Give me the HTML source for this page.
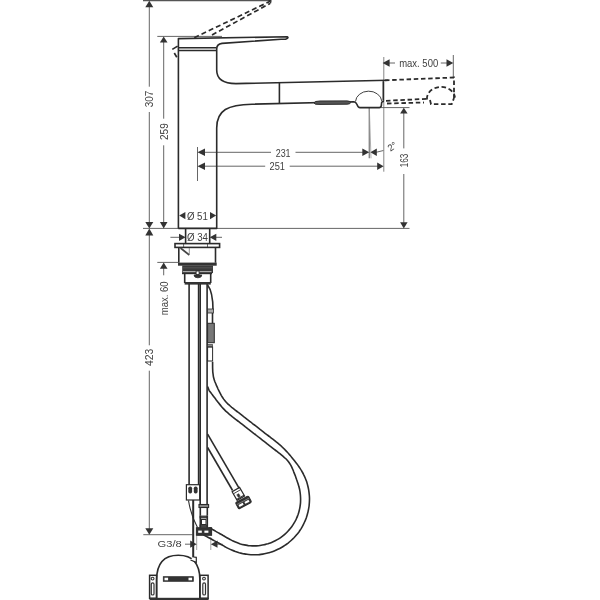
<!DOCTYPE html>
<html><head><meta charset="utf-8">
<style>
html,body{margin:0;padding:0;background:#fff;width:600px;height:600px;overflow:hidden}
svg{display:block;will-change:transform}
text{font-family:"Liberation Sans",sans-serif;fill:#404040;font-size:10.2px}
</style></head><body>
<svg width="600" height="600" viewBox="0 0 600 600">
<rect width="600" height="600" fill="#fff"/>

<!-- ===== dimension lines (thin) ===== -->
<g stroke="#555" stroke-width="0.9" fill="none">
  <line x1="143" y1="0.6" x2="271" y2="0.6" stroke-width="1.3"/>
  <!-- 307 -->
  <line x1="149.3" y1="5" x2="149.3" y2="86.7"/>
  <line x1="149.3" y1="112" x2="149.3" y2="223"/>
  <!-- lever ext -->
  <line x1="157.3" y1="36.4" x2="222" y2="36.4"/>
  <!-- 259 -->
  <line x1="163.7" y1="40" x2="163.7" y2="118.7"/>
  <line x1="163.7" y1="145.3" x2="163.7" y2="223"/>
  <!-- floor line -->
  <line x1="143" y1="228.4" x2="409.5" y2="228.4"/>
  <!-- 423 -->
  <line x1="149.3" y1="234" x2="149.3" y2="345.3"/>
  <line x1="149.3" y1="370.7" x2="149.3" y2="529"/>
  <line x1="143.3" y1="534.7" x2="192.5" y2="534.7"/>
  <!-- max 60 -->
  <line x1="157.3" y1="262.4" x2="178" y2="262.4"/>
  <line x1="163.7" y1="267" x2="163.7" y2="275.3"/>
  <!-- 231 / 251 ext -->
  <line x1="197.5" y1="147" x2="197.5" y2="181"/>
  <line x1="203" y1="152.3" x2="271" y2="152.3"/>
  <line x1="295.5" y1="152.3" x2="363" y2="152.3"/>
  <line x1="203" y1="166.2" x2="265.2" y2="166.2"/>
  <line x1="289.7" y1="166.2" x2="378" y2="166.2"/>
  <line x1="376" y1="152.3" x2="383.5" y2="150.5"/>
  <!-- 2 deg spray lines -->
  <line x1="369.3" y1="107.6" x2="369.3" y2="158.3" stroke="#888" stroke-width="1.4"/>
  <line x1="369.3" y1="107.6" x2="371" y2="158.3" stroke="#999" stroke-width="0.8"/>
  <!-- right ext line -->
  <line x1="383.8" y1="57" x2="383.8" y2="171.7" stroke="#777"/>
  <line x1="380" y1="107.6" x2="409.5" y2="107.6"/>
  <!-- 163 -->
  <line x1="403.8" y1="112" x2="403.8" y2="148.4"/>
  <line x1="403.8" y1="174" x2="403.8" y2="223"/>
  <!-- max 500 -->
  <line x1="453.3" y1="55" x2="453.3" y2="77"/>
  <line x1="388" y1="63" x2="395" y2="63"/>
  <line x1="440.8" y1="63" x2="448" y2="63"/>
  <!-- Ø34 -->
  <line x1="170.4" y1="237.3" x2="180" y2="237.3"/>
  <line x1="215" y1="237.3" x2="222" y2="237.3"/>
  <!-- G3/8 -->
  <line x1="185" y1="544.2" x2="191" y2="544.2"/>
  <line x1="217" y1="544.2" x2="222.5" y2="544.2"/>
  <line x1="196.7" y1="536" x2="196.7" y2="550" stroke="#999"/>
  <line x1="210.8" y1="537" x2="210.8" y2="550" stroke="#999"/>
</g>

<!-- ===== arrows ===== -->
<g fill="#333" stroke="none">
  <path d="M149.3 0.8 L145.3 7.3 L153.3 7.3Z"/>
  <path d="M149.3 228.4 L145.3 222.1 L153.3 222.1Z"/>
  <path d="M149.3 228.4 L145.3 235.4 L153.3 235.4Z"/>
  <path d="M149.3 534.7 L145.3 528.3 L153.3 528.3Z"/>
  <path d="M163.7 36.4 L159.9 42.5 L167.5 42.5Z"/>
  <path d="M163.7 228.4 L159.9 222.1 L167.5 222.1Z"/>
  <path d="M163.7 262.5 L159.9 268.7 L167.5 268.7Z"/>
  <!-- 231 -->
  <path d="M197.5 152.3 L205 148.6 L205 156Z"/>
  <path d="M369.3 152.3 L362.3 148.6 L362.3 156Z"/>
  <path d="M370.4 152.3 L376.8 148.6 L376.8 156Z"/>
  <!-- 251 -->
  <path d="M197.5 166.2 L205 162.5 L205 169.9Z"/>
  <path d="M383.6 166.2 L377.2 162.5 L377.2 169.9Z"/>
  <!-- 163 -->
  <path d="M403.8 107.8 L400.1 113.6 L407.6 113.6Z"/>
  <path d="M403.8 228.4 L400.1 222.2 L407.6 222.2Z"/>
  <!-- max 500 -->
  <path d="M382.6 63 L389.6 59.3 L389.6 66.7Z"/>
  <path d="M453.3 63 L446.5 59.3 L446.5 66.7Z"/>
  <!-- Ø51 -->
  <path d="M179.2 215.6 L185.4 212 L185.4 219.2Z"/>
  <path d="M216.2 215.6 L210 212 L210 219.2Z"/>
  <!-- Ø34 -->
  <path d="M185.6 237.3 L179 233.7 L179 240.9Z"/>
  <path d="M209.7 237.3 L216.3 233.7 L216.3 240.9Z"/>
  <!-- G3/8 -->
  <path d="M196.7 544.2 L190.2 540.6 L190.2 547.8Z"/>
  <path d="M210.8 544.2 L217.5 540.6 L217.5 547.8Z"/>
</g>

<!-- ===== text ===== -->
<g class="txt">
  <text transform="translate(153.4,107.3) rotate(-90)" textLength="16.6" lengthAdjust="spacingAndGlyphs">307</text>
  <text transform="translate(167.9,140) rotate(-90)" textLength="16.7" lengthAdjust="spacingAndGlyphs">259</text>
  <text transform="translate(153.4,366) rotate(-90)" textLength="17.3" lengthAdjust="spacingAndGlyphs">423</text>
  <text transform="translate(167.8,315.3) rotate(-90)" textLength="34" lengthAdjust="spacingAndGlyphs">max. 60</text>
  <text transform="translate(407.8,167.2) rotate(-90)" textLength="13.5" lengthAdjust="spacingAndGlyphs">163</text>
  <text x="275.7" y="156.7" textLength="14.9" lengthAdjust="spacingAndGlyphs">231</text>
  <text x="269.6" y="170.1" textLength="15.4" lengthAdjust="spacingAndGlyphs">251</text>
  <text x="186.9" y="219.5" textLength="21" lengthAdjust="spacingAndGlyphs">Ø 51</text>
  <text x="187" y="241" textLength="21" lengthAdjust="spacingAndGlyphs">Ø 34</text>
  <text x="399.2" y="66.7" textLength="39" lengthAdjust="spacingAndGlyphs">max. 500</text>
  <text x="157.5" y="547.3" style="font-size:8.9px" textLength="24.2" lengthAdjust="spacingAndGlyphs">G3/8</text>
  <text transform="translate(390.5,151.8) rotate(-36)" style="font-size:9.5px" textLength="9" lengthAdjust="spacingAndGlyphs">2°</text>
</g>

<!-- ===== faucet above counter ===== -->
<g stroke="#2b2b2b" stroke-width="1.6" fill="none" stroke-linejoin="round">
  <!-- lever -->
  <path d="M178.4 228.4 L178.4 38.6 L287.5 36.8 Q289 37.8 285.5 39.2 L281 39.3 L222 43.4 Q216.7 44 216.7 49 L216.7 70 Q216.7 83.6 236 83.6 L388 80.2 M383.3 80.4 L383.3 100.8"/>
  <line x1="178.4" y1="47.8" x2="216.4" y2="47.8" stroke-width="1.5"/>
  <line x1="178.4" y1="50.4" x2="216.4" y2="50.4" stroke-width="1.5"/>
  <!-- joint -->
  <line x1="279.4" y1="83" x2="279.4" y2="104"/>
  <!-- lower spout -->
  <path d="M178.4 228.4 L216.7 228.4 L216.7 128 C216.7 110 228 104.6 252 104.2 L354 101.8 Q356 102 357 104.5 Q358 107.6 360 107.6 L379.5 107.6 Q381.5 107.6 381.5 104 Q381.5 101 384 101.5"/>
  <!-- button -->
  <path d="M314 102.9 Q314 101.1 320 101 L347 100.9 Q350.5 101 350.5 102.6 Q350.5 104.2 347 104.2 L320 104.4 Q314 104.6 314 102.9Z" fill="#555" stroke-width="1"/>
  <!-- dome -->
  <path d="M355.5 101.5 A13.2 11 0 0 1 381.8 101" stroke-width="0.9"/>
</g>

<!-- dashed raised lever -->
<g stroke="#2b2b2b" stroke-width="1.7" fill="none">
  <path d="M172.3 49.4 L177.6 46.1 M174.3 53 L176.8 57.2"/>
  <path d="M194.3 37.7 L270.3 1.2" stroke-dasharray="5 3"/>
  <path d="M212 35 L270 3.4" stroke-dasharray="5 3"/>
  <path d="M268.5 0.5 L271 0.8 L270.5 3.5" stroke-width="1.2"/>
</g>
<!-- dashed extended spout -->
<g stroke="#2b2b2b" stroke-width="1.8" fill="none" stroke-dasharray="4.5 2.7">
  <path d="M385 80.3 L454 77.5 L454 98"/>
  <path d="M386 100.8 L427 98.8"/>
  <path d="M387 103.5 L424 102.5"/>
  <path d="M427 99.5 A14 11.5 0 0 1 455 97.5"/>
  <path d="M430 100 L431 104.2 L451.7 104.2 L454 98"/>
</g>

<!-- ===== under counter ===== -->
<g stroke="#2b2b2b" stroke-width="1.6" fill="none">
  <!-- Ø34 cylinder -->
  <line x1="185.6" y1="228.4" x2="185.6" y2="243.5"/>
  <line x1="209.7" y1="228.4" x2="209.7" y2="243.5"/>
  <!-- flange -->
  <rect x="175" y="243.6" width="44.6" height="3.8"/>
  <line x1="183.6" y1="243.6" x2="183.6" y2="247.4" stroke-width="0.7"/>
  <line x1="207.5" y1="243.6" x2="207.5" y2="247.4" stroke-width="0.7"/>
  <!-- nut body -->
  <path d="M178.8 247.4 L178.8 262.8 M215.5 247.4 L215.5 262.8"/>
  <path d="M180.5 248 L189.3 255" stroke="#444" stroke-width="1.6"/><path d="M189.3 248 L189.3 254.5" stroke="#888" stroke-width="0.9"/>
</g>
<g fill="#333">
  <rect x="178" y="262.6" width="38.7" height="3.1"/>
  <rect x="182.2" y="265.5" width="30.8" height="7.6" fill="#3a3a3a"/>
  <rect x="183" y="271" width="28.5" height="1.3" fill="#aaa"/>
  <rect x="182.5" y="267.6" width="30" height="0.6" fill="#666"/>
  <rect x="184.6" y="282" width="26.2" height="2.6"/>
</g>
<g stroke="#2b2b2b" stroke-width="1.6" fill="none">
  <path d="M184.7 273.4 L184.7 283 M210.7 273.4 L210.7 283"/>
  <path d="M182 273.4 L212 273.4"/>
  <rect x="196.1" y="271" width="3" height="3.6" fill="#fff" stroke-width="0.9"/>
  <path d="M194 275 L201.8 275 Q201.8 277.8 197.9 277.8 Q194 277.8 194 275Z" fill="#333" stroke-width="0.8"/>
  <!-- pipes -->
  <line x1="189.1" y1="284" x2="189.1" y2="484.7"/>
  <line x1="198.6" y1="284" x2="198.6" y2="484.7"/>
  <line x1="200.2" y1="284" x2="200.2" y2="504.3"/>
  <line x1="207.1" y1="284" x2="207.1" y2="504.3"/>
  <!-- hose top curve -->
  <path d="M207.6 285 Q213 292 213 310"/>
  <rect x="207.6" y="309" width="5.8" height="4" fill="#aaa" stroke-width="0.8"/>
  <line x1="212.5" y1="313" x2="212.5" y2="323.3"/>
  <rect x="207.6" y="323.3" width="6.7" height="19.4" fill="#777" stroke-width="1"/>
  <rect x="207.6" y="344.5" width="5" height="2.5" fill="#888" stroke-width="0.6"/>
  <rect x="207.6" y="347" width="5" height="14" stroke-width="1"/>
  <!-- hose loop -->
  <path d="M212.6 361.7 C212.6 362.4 212.6 364.6 212.6 366.0 C212.6 367.4 212.6 368.6 212.7 369.9 C212.7 371.1 212.8 372.4 213.0 373.7 C213.2 374.9 213.3 376.2 213.6 377.5 C213.9 378.7 214.3 380.0 214.7 381.2 C215.2 382.4 215.7 383.7 216.2 384.9 C216.7 386.1 217.3 387.3 217.8 388.5 C218.4 389.7 219.0 390.9 219.6 392.1 C220.2 393.3 220.8 394.4 221.4 395.6 C222.1 396.7 222.8 397.8 223.5 398.9 C224.3 400.0 225.1 401.0 226.0 402.0 C226.8 402.9 227.8 403.8 228.7 404.7 C229.7 405.6 230.7 406.4 231.7 407.3 C232.8 408.1 233.8 408.9 234.9 409.8 C235.9 410.6 237.0 411.4 238.0 412.2 C239.1 413.0 240.1 413.9 241.2 414.7 C242.2 415.5 243.3 416.3 244.3 417.1 C245.4 417.9 246.4 418.8 247.5 419.6 C248.6 420.4 249.6 421.2 250.7 422.0 C251.7 422.9 252.8 423.7 253.8 424.5 C254.9 425.3 255.9 426.1 257.0 426.9 C258.0 427.8 259.1 428.6 260.1 429.4 C261.2 430.2 262.3 431.0 263.3 431.8 C264.4 432.7 265.4 433.5 266.5 434.3 C267.5 435.1 268.6 435.9 269.6 436.7 C270.7 437.6 271.7 438.4 272.8 439.2 C273.8 440.0 274.9 440.8 275.9 441.7 C277.0 442.5 278.0 443.3 279.0 444.2 C280.1 445.0 281.1 445.9 282.0 446.8 C283.0 447.7 284.0 448.6 284.9 449.6 C285.8 450.5 286.7 451.5 287.6 452.5 C288.5 453.5 289.3 454.5 290.2 455.5 C291.1 456.5 291.9 457.6 292.7 458.6 C293.6 459.6 294.4 460.7 295.2 461.7 C296.1 462.8 296.9 463.8 297.7 464.9 C298.4 466.0 299.2 467.0 299.9 468.1 C300.7 469.3 301.4 470.4 302.0 471.5 C302.7 472.7 303.3 473.9 303.9 475.1 C304.5 476.2 305.0 477.5 305.5 478.7 C306.0 479.9 306.4 481.2 306.9 482.4 C307.3 483.7 307.6 485.0 307.9 486.3 C308.2 487.5 308.5 488.8 308.7 490.2 C308.9 491.5 309.1 492.8 309.2 494.1 C309.4 495.4 309.4 496.7 309.5 498.1 C309.5 499.4 309.5 500.7 309.4 502.0 C309.3 503.4 309.2 504.7 309.1 506.0 C308.9 507.3 308.7 508.6 308.4 509.9 C308.2 511.2 307.9 512.5 307.5 513.8 C307.2 515.1 306.8 516.4 306.4 517.6 C305.9 518.9 305.5 520.1 304.9 521.3 C304.4 522.5 303.8 523.7 303.2 524.9 C302.6 526.1 302.0 527.2 301.3 528.4 C300.6 529.5 299.8 530.6 299.1 531.7 C298.3 532.7 297.5 533.8 296.6 534.8 C295.8 535.8 294.9 536.8 294.0 537.8 C293.1 538.7 292.1 539.6 291.1 540.5 C290.1 541.4 289.1 542.3 288.1 543.1 C287.0 543.9 285.9 544.7 284.8 545.4 C283.7 546.2 282.6 546.9 281.5 547.5 C280.3 548.2 279.1 548.8 277.9 549.3 C276.7 549.9 275.5 550.5 274.3 550.9 C273.1 551.4 271.8 551.9 270.5 552.3 C269.3 552.6 268.0 553.0 266.7 553.3 C265.4 553.6 264.1 553.9 262.8 554.1 C261.5 554.3 260.2 554.4 258.9 554.6 C257.5 554.7 256.2 554.7 254.9 554.8 C253.6 554.8 252.2 554.8 250.9 554.7 C249.6 554.6 248.3 554.5 247.0 554.3 C245.6 554.2 244.3 553.9 243.0 553.7 C241.7 553.4 240.4 553.1 239.2 552.8 C237.9 552.4 236.6 552.0 235.4 551.6 C234.1 551.1 232.9 550.6 231.7 550.1 C230.5 549.6 229.3 549.0 228.1 548.4 C226.9 547.8 225.7 547.1 224.6 546.5 C223.4 545.8 222.3 545.1 221.1 544.5 C220.0 543.8 218.8 543.1 217.7 542.5 C216.5 541.8 215.4 541.2 214.2 540.6 C213.1 539.9 211.9 539.4 210.8 538.8 C209.7 538.2 208.6 537.6 207.4 537.0 C206.2 536.4 204.2 535.3 203.5 535.0"/>
  <path d="M207.6 386.5 C207.9 387.1 208.5 389.1 209.1 390.3 C209.7 391.4 210.7 392.4 211.4 393.4 C212.2 394.4 212.9 395.5 213.7 396.5 C214.5 397.6 215.3 398.6 216.1 399.7 C216.9 400.7 217.7 401.8 218.5 402.8 C219.3 403.9 220.1 404.9 221.0 405.9 C221.8 406.9 222.7 407.9 223.6 408.9 C224.5 409.9 225.5 410.8 226.4 411.7 C227.4 412.6 228.4 413.5 229.4 414.3 C230.5 415.2 231.5 416.0 232.5 416.8 C233.6 417.6 234.6 418.5 235.7 419.3 C236.7 420.1 237.8 420.9 238.8 421.7 C239.9 422.6 240.9 423.4 242.0 424.2 C243.0 425.0 244.1 425.8 245.1 426.7 C246.2 427.5 247.3 428.3 248.3 429.1 C249.4 429.9 250.4 430.8 251.5 431.6 C252.5 432.4 253.6 433.2 254.6 434.0 C255.7 434.8 256.7 435.7 257.8 436.5 C258.8 437.3 259.9 438.1 260.9 438.9 C262.0 439.8 263.0 440.6 264.1 441.4 C265.1 442.2 266.2 443.0 267.2 443.9 C268.3 444.7 269.3 445.5 270.4 446.3 C271.5 447.1 272.5 448.0 273.6 448.8 C274.6 449.6 275.7 450.4 276.7 451.2 C277.8 452.1 278.8 452.9 279.9 453.7 C280.9 454.5 281.9 455.3 282.9 456.2 C283.9 457.1 285.0 457.9 285.9 458.8 C286.8 459.7 287.7 460.7 288.5 461.7 C289.2 462.7 289.9 463.8 290.6 464.9 C291.2 466.0 291.8 467.2 292.3 468.4 C292.9 469.6 293.4 470.8 293.8 472.1 C294.3 473.3 294.8 474.5 295.3 475.8 C295.7 477.0 296.2 478.3 296.6 479.5 C297.1 480.8 297.5 482.1 297.9 483.3 C298.3 484.6 298.7 485.9 299.0 487.1 C299.4 488.4 299.7 489.7 299.9 491.0 C300.1 492.3 300.3 493.6 300.4 495.0 C300.5 496.3 300.6 497.6 300.6 498.9 C300.6 500.2 300.6 501.6 300.5 502.9 C300.4 504.2 300.2 505.5 300.0 506.8 C299.8 508.1 299.5 509.4 299.2 510.7 C298.9 512.0 298.5 513.3 298.1 514.5 C297.6 515.7 297.2 517.0 296.6 518.2 C296.1 519.4 295.5 520.6 294.9 521.7 C294.2 522.9 293.5 524.0 292.8 525.1 C292.1 526.2 291.3 527.3 290.5 528.3 C289.6 529.4 288.8 530.4 287.9 531.3 C287.0 532.3 286.0 533.2 285.0 534.1 C284.0 535.0 283.0 535.8 281.9 536.6 C280.9 537.4 279.8 538.2 278.7 538.9 C277.6 539.6 276.4 540.2 275.2 540.8 C274.0 541.4 272.8 542.0 271.6 542.5 C270.4 543.0 269.1 543.4 267.9 543.8 C266.6 544.2 265.3 544.5 264.1 544.8 C262.8 545.1 261.5 545.3 260.1 545.5 C258.8 545.7 257.5 545.8 256.2 545.9 C254.9 545.9 253.6 545.9 252.2 545.9 C250.9 545.8 249.6 545.7 248.3 545.6 C247.0 545.4 245.7 545.2 244.4 544.9 C243.1 544.6 241.8 544.3 240.5 543.9 C239.3 543.5 238.0 543.1 236.8 542.6 C235.5 542.1 234.3 541.6 233.1 541.0 C231.9 540.5 230.8 539.8 229.6 539.2 C228.4 538.6 227.3 537.9 226.1 537.3 C225.0 536.6 223.8 535.9 222.7 535.3 C221.5 534.6 220.4 534.0 219.2 533.3 C218.1 532.7 217.0 532.0 215.9 531.4 C214.7 530.7 213.6 530.1 212.5 529.5 C211.4 528.8 209.7 527.9 209.2 527.6"/>
  <!-- second hose -->
  <line x1="207.6" y1="434.2" x2="239.2" y2="488.3"/>
  <line x1="207.6" y1="447.5" x2="232.6" y2="490.5"/>
  <g transform="translate(238.6,494.3) rotate(-30)"><rect x="-4.3" y="-5.5" width="8.6" height="10" stroke-width="1.2"/><line x1="-4.3" y1="-3" x2="4.3" y2="-3" stroke-width="0.8"/><rect x="-1.8" y="-0.5" width="2.2" height="3" fill="#333" stroke-width="0.5"/><line x1="-4.3" y1="3.5" x2="4.3" y2="3.5" stroke-width="1"/></g>
  <g transform="translate(243.5,502.4) rotate(-28)"><rect x="-7.3" y="-3.6" width="14.6" height="7.2" rx="1.2" fill="#333" stroke-width="1"/><rect x="-5.6" y="0" width="4.6" height="2.2" fill="#fff" stroke="none"/><rect x="1" y="0" width="4.6" height="2.2" fill="#fff" stroke="none"/><line x1="-7" y1="-1.2" x2="7" y2="-1.2" stroke="#999" stroke-width="0.6"/></g>
  <!-- left clip -->
  <rect x="186.4" y="484.7" width="13.3" height="15.3" stroke-width="1.2"/>
  <line x1="193.2" y1="500" x2="193.2" y2="557.5" stroke-width="2"/>
  <path d="M188.5 500.5 Q191 516 197.5 527.5" stroke-width="1.1"/>
  <!-- center fitting -->
  <rect x="199" y="504.5" width="9.6" height="3" fill="#888" stroke-width="1.1"/>
  <path d="M200.3 507.3 L200.3 515.4 M207.3 507.3 L207.3 515.4"/>
  <rect x="200" y="516" width="7.2" height="2" fill="#555" stroke-width="0.8"/><rect x="201.5" y="519.5" width="4.5" height="5" stroke-width="1"/><rect x="200" y="525" width="7.2" height="2" fill="#555" stroke-width="0.8"/><path d="M200.3 515.4 L200.3 527.7 M207.3 515.4 L207.3 527.7"/>
  <rect x="196.4" y="527.7" width="15.2" height="7.6" fill="#333" stroke-width="1"/>
  <!-- bottom mount -->
  <path d="M156.6 600 L156.6 580 Q156.6 555.3 178.3 555.3 Q199.9 555.3 199.9 580 L199.9 600"/>
  <path d="M193.2 557 L196.3 557.3 L196.3 562.3 L190.5 560" fill="#fff" stroke-width="1.2"/>
  <rect x="149.6" y="575.3" width="7" height="23" stroke-width="1.5"/>
  <rect x="199.9" y="575.3" width="8.2" height="23" stroke-width="1.5"/>
  <rect x="149.6" y="597.8" width="59" height="2.5" fill="#333" stroke="none"/>
  <rect x="163.3" y="576.7" width="30" height="4.6" fill="#333" stroke-width="0.8"/>
</g>
<g fill="#fff">
  <rect x="164.5" y="577.7" width="3.6" height="2.6"/>
  <rect x="188.5" y="577.7" width="3.6" height="2.6"/>
  <rect x="198.2" y="530.6" width="3.6" height="2.2"/>
  <rect x="204.4" y="530.6" width="4" height="2.2"/>
  
</g>
<g fill="#333">
  <rect x="188.3" y="486.5" width="3.8" height="7" rx="1.8"/>
  <rect x="193.8" y="486.5" width="3.8" height="7" rx="1.8"/>
  <circle cx="152.6" cy="578.6" r="1.4" fill="none" stroke="#333" stroke-width="1.1"/>
  <circle cx="204" cy="578.6" r="1.4" fill="none" stroke="#333" stroke-width="1.1"/>
  <rect x="151.3" y="582.8" width="2.7" height="12.2" rx="1.35" fill="none" stroke="#333" stroke-width="1.2"/>
  <rect x="202.8" y="582.8" width="2.7" height="12.2" rx="1.35" fill="none" stroke="#333" stroke-width="1.2"/>
</g>
</svg>
</body></html>
